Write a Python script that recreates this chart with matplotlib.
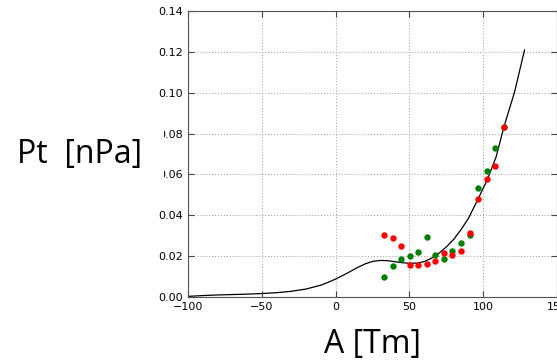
import numpy as np
import matplotlib
matplotlib.use('Agg')
import matplotlib.pyplot as plt

# measured points (green and red share the same A values)
a_pts = [32.5, 38.6, 44.2, 50.2, 56.1, 61.8, 67.6, 73.5, 79.2, 84.9, 91.0, 96.5, 102.6, 108.3, 114.1]
pt_green = [0.0099, 0.0152, 0.0186, 0.0199, 0.0222, 0.0292, 0.0207, 0.0186, 0.0224, 0.0264,
            0.0302, 0.0535, 0.0615, 0.0728, 0.0832]
pt_red = [0.0303, 0.0290, 0.0248, 0.0158, 0.0158, 0.0163, 0.0176, 0.0215, 0.0207, 0.0227,
          0.0315, 0.0478, 0.0578, 0.0640, 0.0834]

# fitted curve
a_curve = [-100, -90, -80, -70, -60, -50, -40, -30, -20, -10, -5, 0, 5, 10, 15, 20, 25, 30,
           35, 40, 45, 50, 55, 60, 65, 70, 75, 80, 85, 90, 96.4, 102.7, 108.8, 114.1,
           121.3, 128]
pt_curve = [0.0003, 0.0007, 0.0010, 0.0012, 0.0014, 0.0017, 0.0021, 0.0028, 0.0039, 0.0058,
            0.0072, 0.0088, 0.0106, 0.0125, 0.0145, 0.0162, 0.0174, 0.0179, 0.0178, 0.0173,
            0.0168, 0.0165, 0.0166, 0.0173, 0.0190, 0.0214, 0.0245, 0.0282, 0.0330, 0.0385,
            0.0478, 0.0573, 0.0687, 0.0834, 0.1005, 0.1209]

fig = plt.figure(figsize=(5.57, 3.63), dpi=100)
ax = fig.add_axes([188/557, 1-297/363, 1-188/557, (297-11)/363])

ax.plot(a_curve, pt_curve, color='black', lw=0.9)
ax.plot(a_pts, pt_green, 'o', color=(0, 0.5, 0), ms=4.6, mew=0)
ax.plot(a_pts, pt_red, 'o', color='red', ms=4.6, mew=0)

ax.set_xlim(-100, 150)
ax.set_ylim(0, 0.14)
ax.set_xticks([-100, -50, 0, 50, 100, 150])
ax.set_yticks(np.arange(0, 0.141, 0.02))
ax.set_yticklabels(['%.2f' % v for v in np.arange(0, 0.141, 0.02)])
ax.tick_params(direction='in', top=True, right=True, labelsize=8, length=4, color='#444444')
ax.grid(True, linestyle=':', color='#aaaaaa', lw=0.8)
for s in ax.spines.values():
    s.set_color('#555555')

fig.text(17/557, 1-154/363, 'Pt  [nPa]', fontsize=23, family='Open Sans',
         ha='left', va='center', bbox=dict(fc='white', ec='none', pad=16))
fig.text(372/557, 1-345/363, 'A [Tm]', fontsize=23, family='Open Sans',
         ha='center', va='center')

fig.savefig('out.png', dpi=100)
